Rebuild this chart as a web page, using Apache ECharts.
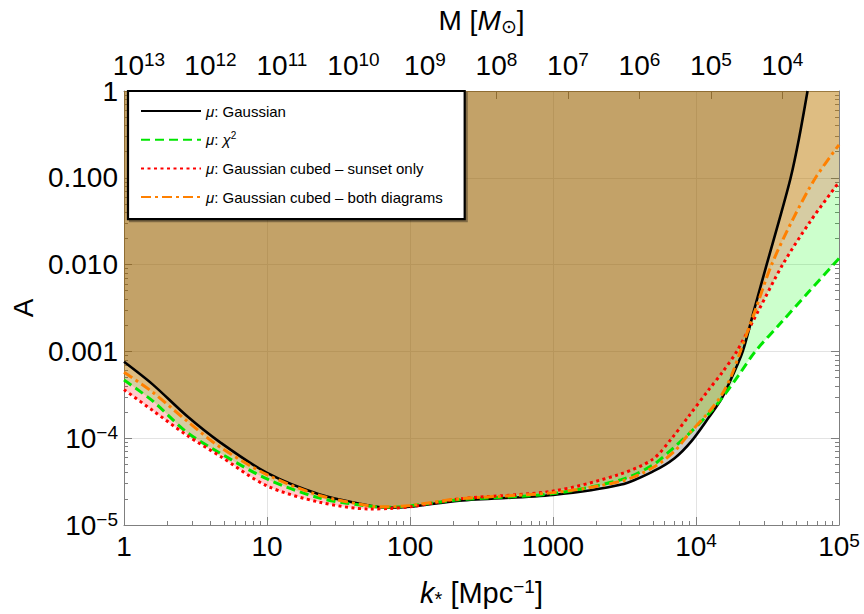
<!DOCTYPE html>
<html><head><meta charset="utf-8">
<script src="https://cdn.jsdelivr.net/npm/echarts@6/dist/echarts.min.js"></script>
<style>html,body{margin:0;padding:0;background:#fff}#c{width:864px;height:614px}</style>
</head><body><div id="c"></div>
<script>
const FONT = '"Liberation Sans", Arial, Helvetica, sans-serif';

// ---- data (k in Mpc^-1, A dimensionless) ----
const gaussK = [1, 1.585, 2.754, 4.677, 10, 23.4, 52.5, 72.4, 100, 221, 1000, 3000, 5000, 7079, 9333, 12300, 15140, 17780, 21230, 25700, 31190, 38020, 45920, 52480, 60260];
const gaussA = [7.59e-4, 4.17e-4, 1.80e-4, 9.02e-5, 3.98e-5, 2.25e-5, 1.67e-5, 1.58e-5, 1.62e-5, 1.91e-5, 2.22e-5, 2.92e-5, 4.14e-5, 5.89e-5, 9.33e-5, 1.74e-4, 2.88e-4, 5.01e-4, 1.0e-3, 3.16e-3, 0.01, 0.0316, 0.1, 0.282, 1.0];

const chiK = [1, 1.585, 2.754, 4.677, 10, 23.4, 52.5, 72.4, 100, 221, 1000, 3000, 5000, 7079, 8913, 12300, 15140, 19950, 26000, 39810, 61240, 100000];
const chiA = [4.68e-4, 2.69e-4, 1.17e-4, 6.76e-5, 3.39e-5, 2.04e-5, 1.64e-5, 1.60e-5, 1.66e-5, 1.95e-5, 2.30e-5, 3.33e-5, 4.91e-5, 7.94e-5, 1.12e-4, 1.91e-4, 2.88e-4, 5.37e-4, 1.0e-3, 2.19e-3, 4.82e-3, 0.01175];

const sunsetK = [1, 1.585, 2.754, 4.677, 10, 23.4, 52.5, 72.4, 100, 221, 1000, 3000, 5000, 6776, 8913, 12300, 15140, 19280, 27540, 40360, 63100, 100000];
const sunsetA = [3.63e-4, 2.09e-4, 1.08e-4, 6.24e-5, 2.82e-5, 1.83e-5, 1.53e-5, 1.55e-5, 1.62e-5, 2.0e-5, 2.46e-5, 3.89e-5, 5.74e-5, 1.0e-4, 1.80e-4, 3.63e-4, 5.62e-4, 1.0e-3, 3.02e-3, 0.01, 0.0316, 0.0891];

const bothK = [1, 1.585, 2.754, 4.677, 10, 23.4, 52.5, 72.4, 100, 221, 1000, 3000, 5000, 7079, 8913, 12300, 15140, 17780, 20420, 26300, 33810, 47860, 68550, 100000];
const bothA = [5.75e-4, 3.39e-4, 1.58e-4, 7.94e-5, 3.80e-5, 2.19e-5, 1.66e-5, 1.62e-5, 1.68e-5, 2.0e-5, 2.36e-5, 3.19e-5, 4.59e-5, 7.08e-5, 1.12e-4, 2.0e-4, 3.16e-4, 5.37e-4, 1.0e-3, 3.16e-3, 0.01, 0.0339, 0.1, 0.24];

const seriesNames = ['μ: Gaussian', 'μ: χ2', 'μ: Gaussian cubed – sunset only', 'μ: Gaussian cubed – both diagrams'];
const legendText = ['{i|μ}: Gaussian', '{i|μ}: {i|χ}{sup|2}', '{i|μ}: Gaussian cubed – sunset only', '{i|μ}: Gaussian cubed – both diagrams'];

// tick labels
const kTickExp = [0, 1, 2, 3, 4, 5];
const kTickText = ['1', '10', '100', '1000', '10{sup|4}', '10{sup|5}'];
const aTickExp = [-5, -4, -3, -2, -1, 0];
const aTickText = ['10{sup|−5}', '10{sup|−4}', '0.001', '0.010', '0.100', '1'];
const mTickExp = [13, 12, 11, 10, 9, 8, 7, 6, 5, 4];
const M_AT_K1 = 1.62e13; // M [M_sun] corresponding to k = 1 Mpc^-1, M ∝ k^-2

// ---- helpers ----
const pairs = (ks, as) => ks.map((k, i) => [k, as[i]]);
const minorTicks = (lo, hi) => { const o = []; for (let e = lo; e < hi; e++) for (let m = 2; m <= 9; m++) o.push(m * Math.pow(10, e)); return o; };
const mTickK = mTickExp.map(e => Math.sqrt(M_AT_K1 / Math.pow(10, e)));

const frameColor = '#7f7f7f';
const gridColor = '#e3e3e3';
const LBL = 28;
const labelRich = {
  sup: { fontFamily: FONT, fontSize: 19, color: '#000', verticalAlign: 'top', lineHeight: 12 },
};
const baseLabel = { fontFamily: FONT, fontSize: LBL, color: '#000', lineHeight: 31, rich: labelRich };

const curves = [
  { k: gaussK, a: gaussA, color: '#000000', fill: 'rgba(0,0,0,0.2)', width: 2.6, type: 'solid' },
  { k: chiK, a: chiA, color: '#00e600', fill: 'rgba(0,255,0,0.2)', width: 3, type: [9, 5] },
  { k: sunsetK, a: sunsetA, color: '#ff0000', fill: 'rgba(255,0,0,0.2)', width: 3, type: [3, 3.5] },
  { k: bothK, a: bothA, color: '#ff8000', fill: 'rgba(255,128,0,0.2)', width: 3, type: [10, 4, 3, 4] },
];

const SMOOTH = 0.3;
const series = [];
curves.forEach((c, i) => {
  series.push({
    name: 'fill' + i, type: 'line', data: pairs(c.k, c.a), symbol: 'none', silent: true,
    smooth: SMOOTH,
    lineStyle: { width: 0, opacity: 0 },
    areaStyle: { color: c.fill, origin: 'end', opacity: 1 },
    z: 1,
  });
});
curves.forEach((c, i) => {
  series.push({
    name: seriesNames[i], type: 'line', data: pairs(c.k, c.a), symbol: 'none',
    smooth: SMOOTH,
    lineStyle: { color: c.color, width: c.width, type: c.type, cap: 'butt' },
    itemStyle: { color: c.color },
    z: 3,
  });
});

const chart = echarts.init(document.getElementById('c'), null, { renderer: 'svg' });
chart.setOption({
  animation: false,
  backgroundColor: '#ffffff',
  grid: { left: 124, right: 25, top: 85, bottom: 86, containLabel: false },
  legend: {
    data: seriesNames,
    orient: 'vertical', left: 128, top: 91,
    padding: [11, 22, 13, 12],
    itemWidth: 60, itemHeight: 14, itemGap: 10.7,
    backgroundColor: '#ffffff', borderColor: '#000', borderWidth: 2.2, borderRadius: 0,
    shadowColor: 'rgba(0,0,0,0.35)', shadowOffsetX: 2, shadowOffsetY: 2, shadowBlur: 0,
    selectedMode: false,
    itemStyle: { opacity: 0, borderWidth: 0 },
    formatter: name => legendText[seriesNames.indexOf(name)],
    textStyle: {
      fontFamily: FONT, fontSize: 15, color: '#000', lineHeight: 18,
      rich: {
        i: { fontFamily: FONT, fontSize: 15, fontStyle: 'italic', color: '#000' },
        sup: { fontFamily: FONT, fontSize: 10, color: '#000', verticalAlign: 'top', lineHeight: 8 },
      },
    },
  },
  xAxis: [
    {
      type: 'log', logBase: 10, min: 1, max: 100000, position: 'bottom',
      name: '{i|k}{sub|*} [Mpc{sup|−1}]', nameLocation: 'middle', nameGap: 52,
      nameTextStyle: {
        fontFamily: FONT, fontSize: 29, color: '#000', lineHeight: 32,
        rich: {
          i: { fontFamily: FONT, fontSize: 29, fontStyle: 'italic', color: '#000' },
          sub: { fontFamily: FONT, fontSize: 20, color: '#000', verticalAlign: 'bottom', lineHeight: 16 },
          sup: { fontFamily: FONT, fontSize: 19, color: '#000', verticalAlign: 'top', lineHeight: 12 },
        },
      },
      axisLine: { show: true, lineStyle: { color: frameColor, width: 1 } },
      axisTick: { show: true, inside: true, length: 8, lineStyle: { color: frameColor } },
      axisLabel: Object.assign({}, baseLabel, { margin: 6,
        formatter: v => kTickText[kTickExp.indexOf(Math.round(Math.log10(v)))] || '' }),
      splitLine: { show: true, lineStyle: { color: gridColor, width: 1 } },
    },
    {
      type: 'log', logBase: 10, min: 1, max: 100000, position: 'top',
      name: 'M [{i|M}{sub|⊙}]', nameLocation: 'middle', nameGap: 55,
      nameTextStyle: {
        fontFamily: FONT, fontSize: 28, color: '#000', lineHeight: 31,
        rich: {
          i: { fontFamily: FONT, fontSize: 28, fontStyle: 'italic', color: '#000' },
          sub: { fontFamily: FONT, fontSize: 19, color: '#000', verticalAlign: 'bottom', lineHeight: 14 },
        },
      },
      axisLine: { show: true, lineStyle: { color: frameColor, width: 1 } },
      axisTick: { show: true, inside: true, length: 8, customValues: mTickK, lineStyle: { color: frameColor } },
      axisLabel: Object.assign({}, baseLabel, { margin: 10, customValues: mTickK,
        formatter: v => '10{sup|' + Math.round(Math.log10(M_AT_K1 / (v * v))) + '}' }),
      splitLine: { show: false },
    },
    {
      type: 'log', logBase: 10, min: 1, max: 100000, position: 'bottom',
      axisLine: { show: false },
      axisTick: { show: true, inside: true, length: 4, customValues: minorTicks(0, 5), lineStyle: { color: frameColor } },
      axisLabel: { show: false }, splitLine: { show: false },
    },
  ],
  yAxis: [
    {
      type: 'log', logBase: 10, min: 1e-5, max: 1, position: 'left',
      name: 'A', nameLocation: 'middle', nameGap: 84, nameRotate: 90,
      nameTextStyle: { fontFamily: FONT, fontSize: 28, color: '#000' },
      axisLine: { show: true, lineStyle: { color: frameColor, width: 1 } },
      axisTick: { show: true, inside: true, length: 8, lineStyle: { color: frameColor } },
      axisLabel: Object.assign({}, baseLabel, { margin: 6,
        formatter: v => aTickText[aTickExp.indexOf(Math.round(Math.log10(v)))] || '' }),
      splitLine: { show: true, lineStyle: { color: gridColor, width: 1 } },
    },
    {
      type: 'log', logBase: 10, min: 1e-5, max: 1, position: 'right',
      axisLine: { show: true, lineStyle: { color: frameColor, width: 1 } },
      axisTick: { show: true, inside: true, length: 8, lineStyle: { color: frameColor } },
      axisLabel: { show: false }, splitLine: { show: false },
    },
    {
      type: 'log', logBase: 10, min: 1e-5, max: 1, position: 'left',
      axisLine: { show: false },
      axisTick: { show: true, inside: true, length: 4, customValues: minorTicks(-5, 0), lineStyle: { color: frameColor } },
      axisLabel: { show: false }, splitLine: { show: false },
    },
    {
      type: 'log', logBase: 10, min: 1e-5, max: 1, position: 'right',
      axisLine: { show: false },
      axisTick: { show: true, inside: true, length: 4, customValues: minorTicks(-5, 0), lineStyle: { color: frameColor } },
      axisLabel: { show: false }, splitLine: { show: false },
    },
  ],
  series: series,
});
</script>
</body></html>
